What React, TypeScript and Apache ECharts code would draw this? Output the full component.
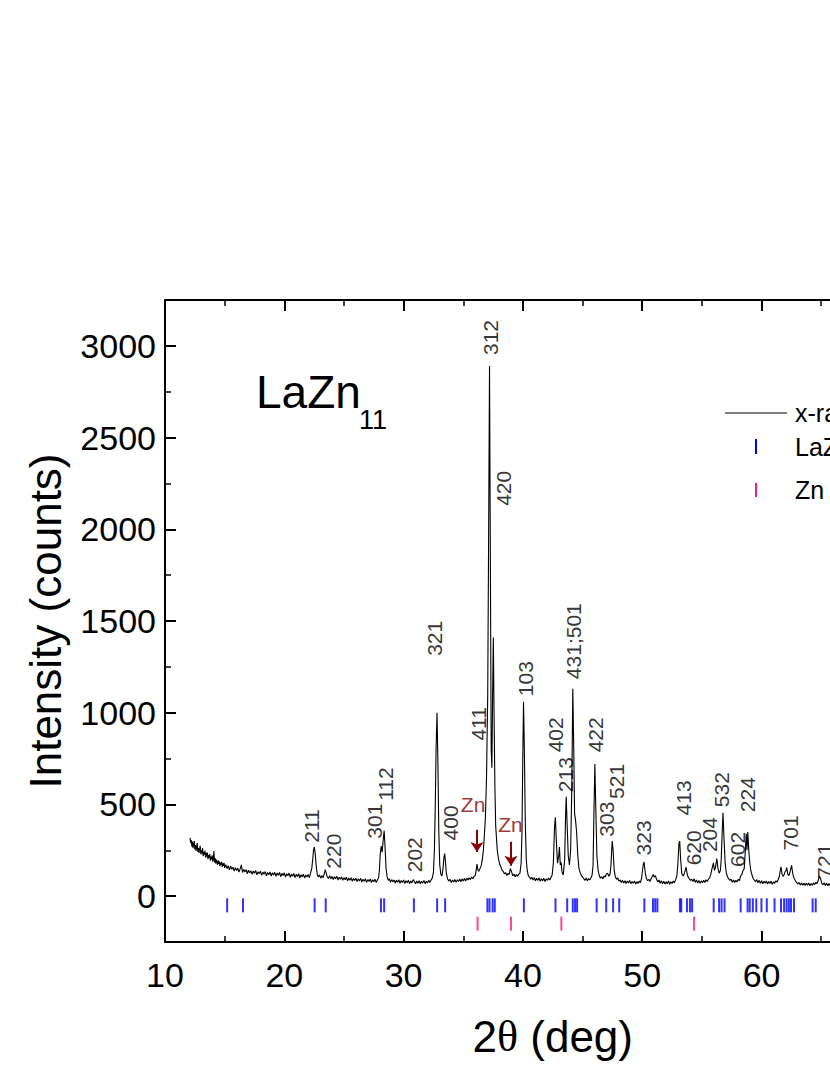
import React, { useEffect, useRef } from "react";
import * as echarts from "echarts";

const FONT = '"Liberation Sans", Arial, Helvetica, sans-serif';

const pattern: [number, number][] = [
  [12.1, 318], [12.15, 290], [12.2, 306], [12.25, 271], [12.3, 298], [12.35, 262], [12.4, 284], [12.45, 300],
  [12.5, 255], [12.55, 279], [12.6, 247], [12.65, 270], [12.7, 289], [12.75, 241], [12.8, 262], [12.85, 236],
  [12.9, 258], [12.95, 274], [13.0, 228], [13.05, 251], [13.1, 233], [13.15, 262], [13.2, 218], [13.25, 240],
  [13.3, 226], [13.35, 249], [13.4, 210], [13.45, 236], [13.5, 215], [13.55, 238], [13.6, 201], [13.65, 224],
  [13.7, 208], [13.75, 229], [13.8, 193], [13.85, 216], [13.9, 200], [13.95, 222], [14.0, 188], [14.05, 205],
  [14.1, 246], [14.15, 184], [14.2, 207], [14.25, 178], [14.3, 199], [14.35, 186], [14.4, 171], [14.45, 195],
  [14.5, 176], [14.55, 190], [14.6, 164], [14.65, 183], [14.7, 172], [14.75, 187], [14.8, 159], [14.85, 178],
  [14.9, 165], [14.95, 181], [15.0, 154], [15.1, 172], [15.2, 150], [15.3, 166], [15.4, 143], [15.5, 163],
  [15.6, 147], [15.7, 158], [15.8, 136], [15.9, 155], [16.0, 140], [16.1, 152], [16.2, 131], [16.3, 149],
  [16.4, 170], [16.5, 129], [16.6, 146], [16.7, 133], [16.8, 144], [16.9, 122], [17.0, 141], [17.1, 127],
  [17.2, 138], [17.3, 119], [17.4, 137], [17.5, 125], [17.6, 140], [17.7, 116], [17.8, 133], [17.9, 122],
  [18.0, 136], [18.1, 113], [18.2, 131], [18.3, 120], [18.4, 134], [18.5, 111], [18.6, 129], [18.7, 117],
  [18.8, 132], [18.9, 109], [19.0, 128], [19.1, 115], [19.2, 130], [19.3, 108], [19.4, 126], [19.5, 114],
  [19.6, 129], [19.7, 106], [19.8, 124], [19.9, 113], [20.0, 127], [20.1, 104], [20.2, 122], [20.3, 111],
  [20.4, 126], [20.5, 103], [20.6, 120], [20.7, 108], [20.8, 124], [20.9, 101], [21.0, 119], [21.1, 107],
  [21.2, 122], [21.3, 99], [21.4, 117], [21.5, 105], [21.6, 120], [21.7, 98], [21.8, 115], [21.9, 104],
  [22.0, 118], [22.1, 101], [22.2, 125], [22.3, 150], [22.38, 200], [22.45, 250], [22.52, 268], [22.6, 225],
  [22.68, 160], [22.76, 118], [22.85, 104], [22.95, 116], [23.05, 98], [23.15, 112], [23.25, 100], [23.35, 122],
  [23.43, 145], [23.5, 130], [23.58, 108], [23.7, 96], [23.8, 112], [23.9, 94], [24.0, 108], [24.1, 91],
  [24.2, 106], [24.3, 95], [24.4, 109], [24.5, 88], [24.6, 103], [24.7, 92], [24.8, 105], [24.9, 86],
  [25.0, 101], [25.1, 89], [25.2, 103], [25.3, 84], [25.4, 99], [25.5, 87], [25.6, 101], [25.7, 81],
  [25.8, 96], [25.9, 85], [26.0, 98], [26.1, 79], [26.2, 94], [26.3, 83], [26.4, 97], [26.5, 77],
  [26.6, 92], [26.7, 81], [26.8, 95], [26.9, 75], [27.0, 90], [27.1, 80], [27.2, 94], [27.3, 74],
  [27.4, 89], [27.5, 79], [27.6, 92], [27.7, 75], [27.8, 88], [27.9, 100], [27.97, 140], [28.04, 230],
  [28.12, 273], [28.2, 240], [28.28, 300], [28.37, 357], [28.45, 260], [28.53, 150], [28.62, 105], [28.72, 86],
  [28.8, 95], [28.9, 76], [29.0, 90], [29.1, 78], [29.2, 88], [29.3, 72], [29.4, 87], [29.5, 76],
  [29.6, 89], [29.7, 70], [29.8, 85], [29.9, 74], [30.0, 88], [30.1, 69], [30.2, 84], [30.3, 73],
  [30.4, 86], [30.5, 68], [30.6, 83], [30.7, 72], [30.8, 90], [30.9, 80], [31.0, 68], [31.1, 82],
  [31.2, 70], [31.3, 84], [31.4, 67], [31.5, 81], [31.6, 71], [31.7, 85], [31.8, 68], [31.9, 82],
  [32.0, 72], [32.1, 86], [32.2, 75], [32.3, 88], [32.4, 98], [32.5, 130], [32.58, 250], [32.65, 480],
  [32.72, 800], [32.8, 1000], [32.88, 700], [32.95, 350], [33.03, 170], [33.12, 118], [33.22, 110], [33.3, 150],
  [33.38, 210], [33.44, 232], [33.5, 195], [33.58, 125], [33.68, 95], [33.78, 82], [33.88, 92], [34.0, 74],
  [34.1, 88], [34.2, 77], [34.3, 91], [34.4, 75], [34.5, 89], [34.6, 80], [34.7, 93], [34.8, 78],
  [34.9, 94], [35.0, 83], [35.1, 96], [35.2, 82], [35.3, 98], [35.4, 88], [35.5, 100], [35.6, 90],
  [35.7, 104], [35.8, 95], [35.9, 108], [36.0, 112], [36.08, 140], [36.15, 175], [36.22, 145], [36.3, 135],
  [36.4, 150], [36.5, 165], [36.6, 200], [36.7, 260], [36.85, 420], [36.95, 650], [37.05, 1100], [37.12, 1900],
  [37.2, 2890], [37.28, 1700], [37.34, 800], [37.4, 700], [37.46, 1100], [37.52, 1410], [37.58, 1000], [37.65, 600],
  [37.72, 380], [37.85, 250], [37.95, 205], [38.05, 175], [38.15, 160], [38.25, 142], [38.35, 135], [38.45, 122],
  [38.55, 128], [38.65, 113], [38.75, 124], [38.85, 118], [38.95, 150], [39.05, 132], [39.15, 110], [39.25, 121],
  [39.35, 106], [39.45, 118], [39.55, 108], [39.65, 120], [39.75, 125], [39.85, 180], [39.92, 350], [39.98, 700],
  [40.05, 1060], [40.12, 800], [40.2, 400], [40.28, 200], [40.36, 140], [40.45, 112], [40.55, 104], [40.65, 92],
  [40.75, 103], [40.85, 88], [40.95, 100], [41.05, 84], [41.15, 97], [41.25, 86], [41.35, 99], [41.45, 81],
  [41.55, 95], [41.65, 84], [41.75, 98], [41.85, 80], [41.95, 94], [42.05, 86], [42.15, 99], [42.25, 88],
  [42.35, 102], [42.45, 115], [42.55, 180], [42.65, 380], [42.72, 430], [42.8, 300], [42.9, 180], [43.0, 220],
  [43.06, 268], [43.13, 170], [43.2, 185], [43.28, 130], [43.38, 115], [43.5, 200], [43.58, 450], [43.63, 542],
  [43.7, 400], [43.8, 220], [43.9, 170], [44.0, 250], [44.1, 600], [44.18, 1131], [44.26, 800], [44.33, 450],
  [44.4, 420], [44.5, 350], [44.6, 220], [44.7, 150], [44.8, 128], [44.9, 112], [45.0, 104], [45.1, 95],
  [45.2, 86], [45.3, 99], [45.4, 84], [45.5, 96], [45.6, 88], [45.7, 100], [45.8, 115], [45.88, 170],
  [45.95, 450], [46.03, 720], [46.1, 500], [46.2, 220], [46.3, 140], [46.4, 112], [46.5, 98], [46.6, 106],
  [46.7, 95], [46.8, 110], [46.9, 104], [47.0, 122], [47.1, 125], [47.2, 108], [47.3, 120], [47.38, 170],
  [47.48, 300], [47.55, 260], [47.65, 140], [47.75, 104], [47.85, 92], [47.95, 99], [48.05, 82], [48.15, 88],
  [48.25, 74], [48.35, 86], [48.45, 71], [48.55, 84], [48.65, 69], [48.75, 82], [48.85, 72], [48.95, 85],
  [49.05, 67], [49.15, 80], [49.25, 70], [49.35, 83], [49.45, 66], [49.55, 79], [49.65, 69], [49.75, 82],
  [49.85, 74], [49.95, 100], [50.08, 170], [50.15, 186], [50.25, 130], [50.35, 96], [50.45, 84], [50.55, 92],
  [50.65, 80], [50.75, 96], [50.85, 108], [50.92, 118], [51.0, 104], [51.1, 112], [51.2, 92], [51.3, 78],
  [51.4, 88], [51.5, 70], [51.6, 84], [51.7, 68], [51.8, 81], [51.9, 66], [52.0, 79], [52.1, 68],
  [52.2, 83], [52.3, 65], [52.4, 78], [52.5, 69], [52.6, 82], [52.7, 72], [52.8, 90], [52.9, 110],
  [52.98, 170], [53.08, 290], [53.14, 300], [53.22, 200], [53.32, 120], [53.45, 110], [53.55, 128], [53.62, 145],
  [53.68, 158], [53.76, 122], [53.85, 104], [53.95, 95], [54.05, 86], [54.15, 92], [54.25, 80], [54.35, 95],
  [54.45, 75], [54.55, 88], [54.65, 72], [54.75, 85], [54.85, 70], [54.95, 83], [55.05, 73], [55.15, 86],
  [55.25, 74], [55.35, 89], [55.45, 80], [55.55, 94], [55.65, 100], [55.75, 120], [55.85, 150], [55.97, 182],
  [56.05, 140], [56.15, 160], [56.25, 205], [56.35, 150], [56.45, 125], [56.55, 140], [56.62, 200], [56.72, 380],
  [56.77, 455], [56.85, 320], [56.95, 180], [57.05, 125], [57.15, 106], [57.25, 94], [57.35, 86], [57.45, 92],
  [57.55, 76], [57.65, 88], [57.75, 74], [57.85, 87], [57.95, 77], [58.05, 92], [58.15, 85], [58.25, 110],
  [58.35, 118], [58.45, 140], [58.55, 150], [58.65, 260], [58.72, 340], [58.78, 250], [58.85, 350], [58.92, 260],
  [59.0, 190], [59.1, 140], [59.2, 115], [59.3, 96], [59.4, 88], [59.5, 78], [59.6, 90], [59.7, 73],
  [59.8, 86], [59.9, 70], [60.0, 84], [60.1, 68], [60.2, 81], [60.3, 70], [60.4, 83], [60.5, 66],
  [60.6, 80], [60.7, 69], [60.8, 82], [60.9, 65], [61.0, 78], [61.1, 70], [61.2, 84], [61.3, 76],
  [61.4, 92], [61.5, 110], [61.57, 140], [61.63, 160], [61.72, 120], [61.8, 108], [61.88, 115], [61.95, 130],
  [62.05, 140], [62.11, 155], [62.2, 120], [62.3, 112], [62.42, 140], [62.52, 168], [62.6, 130], [62.68, 105],
  [62.75, 95], [62.85, 82], [62.95, 74], [63.05, 66], [63.15, 75], [63.25, 61], [63.35, 72], [63.45, 60],
  [63.55, 71], [63.65, 58], [63.75, 70], [63.85, 59], [63.95, 72], [64.05, 57], [64.15, 69], [64.25, 60],
  [64.35, 72], [64.45, 63], [64.55, 75], [64.65, 68], [64.75, 85], [64.85, 110], [64.95, 95], [65.05, 70],
  [65.15, 62], [65.25, 73], [65.35, 58], [65.45, 70], [65.55, 57], [65.65, 69], [65.75, 56], [65.85, 68],
  [65.95, 58], [66.05, 70], [66.15, 56], [66.25, 67], [66.35, 58], [66.45, 69], [66.55, 57], [66.65, 68],
  [66.8, 60],
];

// Bragg positions (deg)
const lazn11Positions = [
  15.21, 16.54, 22.54, 23.47, 28.1, 28.37, 30.86, 32.81, 33.48, 37.02, 37.2, 37.46, 37.64, 40.08,
  42.73, 43.71, 44.18, 44.37, 44.54, 46.18, 46.98, 47.56, 48.07, 50.18, 50.9, 51.09, 51.27,
  53.16, 53.27, 53.75, 54.0, 54.18, 55.99, 56.44, 56.65, 56.9, 58.25, 58.83, 59.01, 59.27, 59.56,
  59.99, 60.44, 61.09, 61.63, 61.89, 62.1, 62.29, 62.47, 62.72, 64.28, 64.54,
];
const znPositions = [36.2, 39.0, 43.22, 54.34];
const lazn11TickLevel = -50;
const znTickLevel = -150;

// peak indexing labels: [text, 2theta, intensity at label start]
const peakLabels: [string, number, number][] = [
  ["211", 22.3, 291], ["220", 24.12, 150], ["301", 27.52, 313], ["112", 28.45, 520],
  ["202", 30.9, 130], ["321", 32.55, 1310], ["400", 33.9, 304], ["411", 36.25, 848],
  ["312", 37.3, 2950], ["420", 38.35, 2128], ["103", 40.25, 1090], ["402", 42.69, 784],
  ["213", 43.53, 567], ["431;501", 44.28, 1183], ["422", 46.11, 784], ["303", 47.0, 324],
  ["521", 47.86, 530], ["323", 50.09, 222], ["413", 53.44, 440], ["620", 54.33, 168],
  ["204", 55.6, 240], ["532", 56.66, 485], ["602", 57.99, 159], ["224", 58.79, 458],
  ["701", 62.39, 249], ["721", 65.28, 95],
];

// Zn impurity annotations: text position and arrow from/to
const znLabels: [number, number][] = [[35.82, 498], [38.96, 392]];
const znArrows: [number, number, number][] = [[36.15, 362, 240], [39.0, 297, 166]];

const yMajorTicks = [0, 500, 1000, 1500, 2000, 2500, 3000];
const yMinorTicks = [250, 750, 1250, 1750, 2250, 2750];

export default function App() {
  const ref = useRef<HTMLDivElement>(null);
  useEffect(() => {
    if (!ref.current) return;
    const chart = echarts.init(ref.current, undefined, { renderer: "svg" });
    const axisLineStyle = { color: "#000", width: 2 };
    const option: any = {
      animation: false,
      backgroundColor: "#fff",
      grid: {
        left: 165,
        top: 300,
        width: 775.5,
        height: 642,
        outerBoundsMode: "none",
        containLabel: false,
      },
      xAxis: [
        {
          type: "value",
          min: 10,
          max: 75,
          interval: 10,
          position: "bottom",
          axisLine: { show: true, onZero: false, lineStyle: axisLineStyle },
          axisTick: { show: true, inside: true, length: 11, lineStyle: { color: "#000", width: 2 } },
          minorTick: { show: true, splitNumber: 2, length: 6, lineStyle: { color: "#000", width: 1.5 } },
          splitLine: { show: false },
          axisLabel: { color: "#000", fontSize: 34, fontFamily: FONT, margin: 16, formatter: (v: number) => String(v) },
          name: "2{t|θ} (deg)",
          nameLocation: "middle",
          nameGap: 72,
          nameTextStyle: {
            color: "#000",
            fontSize: 44,
            fontFamily: FONT,
            rich: { t: { fontSize: 44, fontFamily: '"Liberation Serif", "DejaVu Serif", serif', color: "#000" } },
          },
        },
        {
          type: "value",
          min: 10,
          max: 75,
          interval: 10,
          position: "top",
          axisLine: { show: true, onZero: false, lineStyle: axisLineStyle },
          axisTick: { show: true, inside: true, length: 11, lineStyle: { color: "#000", width: 2 } },
          minorTick: { show: true, splitNumber: 2, length: 6, lineStyle: { color: "#000", width: 1.5 } },
          splitLine: { show: false },
          axisLabel: { show: false },
        },
      ],
      yAxis: [
        {
          type: "value",
          min: -250,
          max: 3250,
          interval: 250,
          position: "left",
          axisLine: { show: true, onZero: false, lineStyle: axisLineStyle },
          axisTick: {
            show: true,
            inside: true,
            length: 11,
            customValues: yMajorTicks,
            lineStyle: { color: "#000", width: 2 },
          },
          splitLine: { show: false },
          axisLabel: {
            color: "#000",
            fontSize: 34,
            fontFamily: FONT,
            margin: 9,
            customValues: yMajorTicks,
            formatter: (v: number) => String(v),
          },
          name: "Intensity (counts)",
          nameLocation: "middle",
          nameGap: 98,
          nameRotate: 90,
          nameTextStyle: { color: "#000", fontSize: 44, fontFamily: FONT },
        },
        {
          type: "value",
          min: -250,
          max: 3250,
          interval: 250,
          position: "left",
          axisLine: { show: false },
          axisTick: {
            show: true,
            inside: true,
            length: 6,
            customValues: yMinorTicks,
            lineStyle: { color: "#000", width: 1.5 },
          },
          splitLine: { show: false },
          axisLabel: { show: false },
        },
      ],
      series: [
        {
          name: "x-ray",
          type: "line",
          data: pattern,
          showSymbol: false,
          symbol: "none",
          lineStyle: { color: "#000", width: 1.1 },
          z: 3,
        },
        {
          name: "LaZn11",
          type: "scatter",
          data: lazn11Positions.map((x) => [x, lazn11TickLevel]),
          symbol: "rect",
          symbolSize: [2, 14],
          itemStyle: { color: "#0000ff" },
          z: 2,
        },
        {
          name: "Zn",
          type: "scatter",
          data: znPositions.map((x) => [x, znTickLevel]),
          symbol: "rect",
          symbolSize: [2, 14],
          itemStyle: { color: "#ff1a75" },
          z: 2,
        },
        {
          name: "peak labels",
          type: "scatter",
          data: peakLabels.map(([t, x, y]) => ({ value: [x, y], name: t })),
          symbolSize: 1,
          itemStyle: { color: "rgba(0,0,0,0)" },
          label: {
            show: true,
            position: "inside",
            formatter: (p: any) => p.name,
            rotate: 90,
            align: "left",
            verticalAlign: "middle",
            color: "#000",
            fontSize: 21,
            fontFamily: FONT,
          },
          silent: true,
          z: 4,
        },
        {
          name: "Zn labels",
          type: "scatter",
          data: znLabels.map(([x, y]) => ({ value: [x, y], name: "Zn" })),
          symbolSize: 1,
          itemStyle: { color: "rgba(0,0,0,0)" },
          label: {
            show: true,
            position: "inside",
            formatter: (p: any) => p.name,
            align: "center",
            verticalAlign: "middle",
            color: "#8b0000",
            fontSize: 21,
            fontFamily: FONT,
          },
          silent: true,
          z: 4,
        },
        {
          name: "Zn arrows",
          type: "lines",
          coordinateSystem: "cartesian2d",
          data: znArrows.map(([x, y1, y2]) => ({ coords: [[x, y1], [x, y2]] })),
          symbol: ["none", "arrow"],
          symbolSize: [0, 10],
          lineStyle: { color: "#8b0000", width: 2, opacity: 1, curveness: 0 },
          silent: true,
          z: 4,
        },
      ],
      graphic: [
        {
          type: "text",
          x: 256,
          y: 415,
          style: { text: "LaZn", fill: "#000", font: `46px ${FONT}`, verticalAlign: "bottom" },
        },
        {
          type: "text",
          x: 359,
          y: 433,
          style: { text: "11", fill: "#000", font: `27px ${FONT}`, verticalAlign: "bottom" },
        },
        { type: "line", shape: { x1: 725, y1: 413, x2: 787, y2: 413 }, style: { stroke: "#000", lineWidth: 1.2 } },
        {
          type: "text",
          x: 795,
          y: 413,
          style: { text: "x-ray", fill: "#000", font: `25px ${FONT}`, verticalAlign: "middle" },
        },
        { type: "rect", shape: { x: 755, y: 439, width: 2, height: 15 }, style: { fill: "#0000ff" } },
        {
          type: "text",
          x: 795,
          y: 447,
          style: { text: "LaZn", fill: "#000", font: `25px ${FONT}`, verticalAlign: "middle" },
        },
        {
          type: "text",
          x: 853,
          y: 458,
          style: { text: "11", fill: "#000", font: `16px ${FONT}`, verticalAlign: "middle" },
        },
        { type: "rect", shape: { x: 755, y: 483, width: 2, height: 14 }, style: { fill: "#ff1a75" } },
        {
          type: "text",
          x: 795,
          y: 490,
          style: { text: "Zn", fill: "#000", font: `25px ${FONT}`, verticalAlign: "middle" },
        },
      ],
    };
    chart.setOption(option);
    return () => chart.dispose();
  }, []);
  return (
    <div
      ref={ref}
      style={{ position: "absolute", left: 0, top: 0, width: 830, height: 1075, background: "#fff" }}
    />
  );
}
